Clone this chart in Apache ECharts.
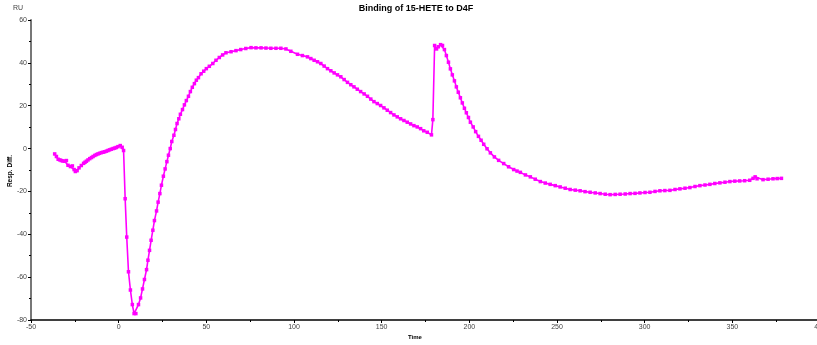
<!DOCTYPE html>
<html>
<head>
<meta charset="utf-8">
<script src="https://cdn.jsdelivr.net/npm/echarts@6/dist/echarts.min.js"></script>
<style>
  html, body { margin: 0; padding: 0; background: #fff; }
  #chart { width: 817px; height: 345px; }
</style>
</head>
<body>
<div id="chart"></div>
<script>
// Sensorgram: response difference (RU) against time
const chartTitle = 'Binding of 15-HETE to D4F';

const time = [
  -36.5, -35.5, -34.5, -33.5, -32.7, -31.8, -30.8, -29.8, -28.9, -27.5,
  -26.4, -25.4, -24.7, -23.7, -22.6, -21.3, -20.0, -19.2, -18.4, -17.5,
  -16.5, -15.5, -14.6, -13.6, -12.7, -11.8, -10.9, -9.9, -8.9, -8.0,
  -7.0, -6.1, -5.2, -4.2, -3.2, -2.3, -1.4, -0.4, 0.9, 2.0,
  2.8, 3.7, 4.6, 5.6, 6.7, 7.8, 8.8, 9.8, 11.3, 12.5,
  13.6, 14.7, 15.9, 16.7, 17.6, 18.5, 19.5, 20.4, 21.6, 22.5,
  23.5, 24.4, 25.5, 26.5, 27.5, 28.4, 29.4, 30.3, 31.5, 32.4,
  33.3, 34.3, 35.2, 36.4, 37.5, 38.6, 39.8, 40.9, 42.0, 43.2,
  44.3, 45.5, 47.0, 48.5, 50.0, 51.7, 53.7, 55.5, 57.4, 59.3,
  61.2, 64.1, 66.9, 69.6, 72.5, 75.5, 78.3, 81.2, 84.0, 86.8,
  89.7, 92.5, 95.4, 98.2, 102.0, 104.8, 107.7, 109.6, 111.5, 113.4,
  115.3, 117.2, 119.1, 121.0, 122.9, 124.8, 126.7, 128.6, 130.5, 132.4,
  134.2, 136.1, 138.0, 140.0, 141.9, 143.8, 145.6, 147.5, 149.4, 151.3,
  153.2, 155.1, 157.0, 158.9, 160.8, 162.7, 164.6, 166.5, 168.4, 170.3,
  172.2, 174.0, 176.0, 178.4, 179.2, 180.2, 181.3, 182.3, 183.6, 184.7,
  185.8, 186.9, 188.1, 189.2, 190.3, 191.5, 192.6, 193.7, 194.9, 196.0,
  197.2, 198.3, 199.5, 200.6, 202.2, 203.6, 205.2, 206.7, 208.2, 210.1,
  212.0, 214.3, 216.7, 219.6, 222.4, 225.3, 227.2, 229.1, 232.0, 234.8,
  237.6, 240.5, 243.3, 246.1, 249.0, 251.8, 254.7, 257.5, 260.4, 263.2,
  266.0, 268.9, 271.8, 274.6, 277.5, 280.3, 283.2, 286.0, 288.9, 291.7,
  294.5, 297.3, 300.2, 303.0, 305.9, 308.7, 311.5, 314.4, 317.3, 320.1,
  323.0, 325.8, 328.7, 331.5, 334.4, 337.2, 340.0, 342.9, 345.8, 348.6,
  351.4, 354.2, 357.0, 359.9, 361.8, 363.0, 364.1, 367.5, 370.4, 373.2,
  375.6, 378.0
];

const respDiff = [
  -2.5, -3.7, -5.0, -5.3, -5.6, -5.8, -5.9, -5.6, -7.8, -8.4,
  -8.1, -9.8, -10.7, -10.3, -9.0, -7.9, -6.9, -6.4, -5.9, -5.3,
  -4.7, -4.2, -3.7, -3.2, -2.8, -2.5, -2.2, -1.9, -1.7, -1.5,
  -1.2, -0.9, -0.6, -0.3, 0.0, 0.2, 0.5, 0.9, 1.4, 0.6,
  -0.9, -23.4, -41.3, -57.5, -66.0, -72.8, -77.0, -77.0, -72.8, -69.7,
  -65.5, -61.1, -56.5, -52.1, -47.5, -42.8, -38.1, -33.6, -29.1, -25.0,
  -21.0, -17.1, -12.9, -9.5, -6.1, -3.1, 0.0, 3.3, 6.2, 8.9,
  11.7, 13.9, 16.0, 18.2, 20.4, 22.4, 24.4, 26.6, 28.6, 30.3,
  31.9, 33.1, 34.9, 36.1, 37.3, 38.4, 39.7, 41.2, 42.5, 43.7,
  44.7, 45.2, 45.7, 46.2, 46.7, 47.1, 47.0, 47.0, 46.9, 46.8,
  46.8, 46.8, 46.5, 45.4, 44.0, 43.4, 42.8, 42.0, 41.2, 40.5,
  39.7, 38.5, 37.3, 36.3, 35.3, 34.4, 33.5, 32.2, 30.9, 29.8,
  28.8, 27.7, 26.6, 25.5, 24.4, 23.1, 21.9, 21.0, 20.1, 19.0,
  17.9, 16.8, 15.7, 14.8, 13.9, 13.1, 12.3, 11.5, 10.7, 10.1,
  9.3, 8.3, 7.6, 6.4, 13.5, 48.1, 46.5, 47.5, 48.5, 48.1,
  46.2, 43.4, 40.3, 37.2, 34.4, 31.6, 28.8, 26.3, 23.7, 21.3,
  18.8, 16.7, 14.5, 12.3, 10.1, 7.9, 5.7, 3.9, 2.0, -0.1,
  -2.0, -3.9, -5.5, -7.0, -8.5, -9.8, -10.5, -11.1, -12.3, -13.2,
  -14.3, -15.4, -16.1, -16.7, -17.3, -17.9, -18.5, -19.1, -19.4, -19.7,
  -20.1, -20.4, -20.7, -21.0, -21.3, -21.5, -21.4, -21.3, -21.2, -21.0,
  -20.9, -20.7, -20.5, -20.4, -20.0, -19.7, -19.6, -19.5, -19.1, -18.8,
  -18.5, -18.2, -17.7, -17.3, -17.0, -16.7, -16.3, -16.0, -15.7, -15.4,
  -15.2, -15.1, -15.0, -14.8, -13.9, -13.2, -14.1, -14.5, -14.3, -14.1,
  -14.0, -13.9
];

const xTicks = { min: -50, max: 400, step: 50 };
const yTicks = { min: -80, max: 60, step: 20 };

const points = time.map((t, i) => [t, respDiff[i]]);

const chart = echarts.init(document.getElementById('chart'), null, { renderer: 'canvas' });

const labelStyle = { color: '#444', fontSize: 7, fontFamily: 'Liberation Sans, Arial, sans-serif' };

chart.setOption({
  animation: false,
  backgroundColor: '#ffffff',
  grid: { left: 31, right: -3, top: 20, bottom: 25, containLabel: false, outerBoundsMode: 'none' },
  xAxis: {
    type: 'value',
    min: xTicks.min, max: xTicks.max, interval: xTicks.step,
    axisLine: { show: true, onZero: false, lineStyle: { color: '#000', width: 1.5 } },
    axisTick: { show: true, length: 3, lineStyle: { color: '#000', width: 1 } },
    minorTick: { show: true, splitNumber: 2, length: 2, lineStyle: { color: '#000', width: 1 } },
    axisLabel: Object.assign({ margin: 4, hideOverlap: false }, labelStyle),
    splitLine: { show: false }
  },
  yAxis: {
    type: 'value',
    min: yTicks.min, max: yTicks.max, interval: yTicks.step,
    axisLine: { show: true, onZero: false, lineStyle: { color: '#777', width: 2 } },
    axisTick: { show: true, length: 3, lineStyle: { color: '#000', width: 1 } },
    minorTick: { show: true, splitNumber: 2, length: 2, lineStyle: { color: '#000', width: 1 } },
    axisLabel: Object.assign({ margin: 4 }, labelStyle),
    splitLine: { show: false }
  },
  graphic: [
    {
      type: 'text', x: 416, y: 9,
      style: { text: chartTitle, fill: '#000', font: 'bold 9px "Liberation Sans", Arial, sans-serif', textAlign: 'center', textVerticalAlign: 'middle' }
    },
    {
      type: 'text', x: 13, y: 8,
      style: { text: 'RU', fill: '#444', font: '7px "Liberation Sans", Arial, sans-serif', textVerticalAlign: 'middle' }
    },
    {
      type: 'text', x: 10, y: 171, rotation: Math.PI / 2,
      style: { text: 'Resp. Diff.', fill: '#000', font: 'bold 6.5px "Liberation Sans", Arial, sans-serif', textAlign: 'center', textVerticalAlign: 'middle' }
    },
    {
      type: 'text', x: 415, y: 337,
      style: { text: 'Time', fill: '#000', font: 'bold 6px "Liberation Sans", Arial, sans-serif', textAlign: 'center', textVerticalAlign: 'middle' }
    }
  ],
  series: [{
    type: 'line',
    data: points,
    symbol: 'rect',
    symbolSize: 3.5,
    showAllSymbol: true,
    itemStyle: { color: '#ff00ff' },
    lineStyle: { color: '#ff00ff', width: 1.6 },
    smooth: false
  }]
});
</script>
</body>
</html>
